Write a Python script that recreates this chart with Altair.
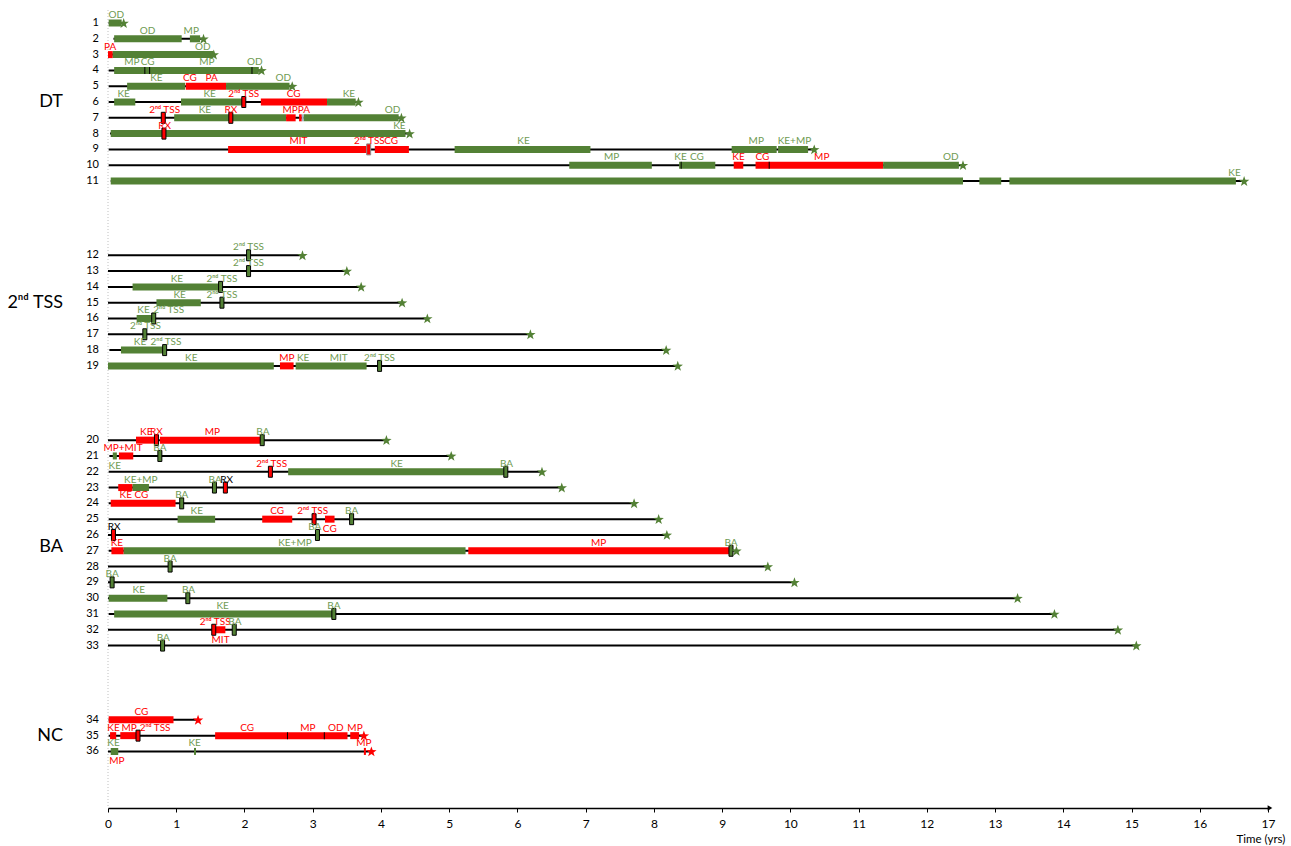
import math
import altair as alt
import pandas as pd

# ---------------------------------------------------------------- cohorts
groups = ["DT", "2ⁿᵈ TSS", "BA", "NC"]
group_sizes = [11, 8, 14, 3]
group_label_row = [6, 15, 26.75, 35]

# follow-up per patient (years): line start, line end (end of follow-up)
follow_start = [0.01, 0.08, 0.00, 0.01, 0.01, 0.01, 0.01, 0.03, 0.01, 0.01, 0.04,
                0.00, 0.00, 0.00, 0.00, 0.00, 0.00, 0.02, 0.00,
                0.00, 0.02, 0.01, 0.01, 0.01, 0.01, 0.00, 0.01, 0.00, 0.00, 0.00, 0.01, 0.00, 0.00,
                0.01, 0.01, 0.00]
follow_end = [0.23, 1.40, 1.55, 2.25, 2.70, 3.67, 4.30, 4.42, 10.35, 12.53, 16.65,
              2.85, 3.50, 3.71, 4.31, 4.68, 6.19, 8.18, 8.35,
              4.08, 5.03, 6.36, 6.65, 7.71, 8.07, 8.19, 9.21, 9.67, 10.06, 13.33, 13.87, 14.80, 15.07,
              1.32, 3.75, 3.86]
end_status = ["G"] * 33 + ["R"] * 3

# treatment periods: (patient, start, end, colour code)
bars = [
    (1, 0.01, 0.20, "G"),
    (2, 0.09, 1.08, "G"), (2, 1.20, 1.35, "G"),
    (3, 0.00, 0.07, "R"), (3, 0.07, 1.54, "G"),
    (4, 0.09, 2.21, "G"),
    (5, 0.28, 1.13, "G"), (5, 1.14, 1.73, "R"), (5, 1.73, 2.66, "G"),
    (6, 0.09, 0.40, "G"), (6, 1.07, 1.98, "G"), (6, 2.24, 3.21, "R"), (6, 3.21, 3.63, "G"),
    (7, 0.97, 2.61, "G"), (7, 2.61, 2.75, "R"), (7, 2.80, 2.84, "R"), (7, 2.84, 2.87, "S"),
    (7, 2.87, 4.26, "G"),
    (8, 0.04, 4.36, "G"),
    (9, 1.76, 3.81, "R"), (9, 3.91, 4.41, "R"), (9, 5.08, 7.07, "G"), (9, 9.14, 9.80, "G"),
    (9, 9.82, 10.26, "G"),
    (10, 6.76, 7.97, "G"), (10, 8.37, 8.90, "G"), (10, 9.17, 9.31, "R"), (10, 9.49, 11.36, "R"),
    (10, 11.36, 12.47, "G"),
    (11, 0.04, 12.53, "G"), (11, 12.77, 13.09, "G"), (11, 13.21, 16.53, "G"),
    (14, 0.36, 1.64, "G"),
    (15, 0.71, 1.36, "G"),
    (16, 0.42, 0.64, "G"),
    (18, 0.19, 0.82, "G"),
    (19, 0.00, 2.43, "G"), (19, 2.52, 2.72, "R"), (19, 2.75, 3.79, "G"),
    (20, 0.41, 0.69, "R"), (20, 0.76, 2.24, "R"),
    (21, 0.07, 0.13, "G"), (21, 0.16, 0.37, "R"),
    (22, 2.64, 5.81, "G"),
    (23, 0.15, 0.36, "R"), (23, 0.36, 0.60, "G"),
    (24, 0.04, 0.99, "R"),
    (25, 1.02, 1.57, "G"), (25, 2.26, 2.70, "R"), (25, 3.18, 3.32, "R"),
    (27, 0.05, 0.23, "R"), (27, 0.23, 5.24, "G"), (27, 5.28, 9.10, "R"),
    (30, 0.01, 0.87, "G"),
    (31, 0.09, 3.29, "G"),
    (32, 1.57, 1.72, "R"),
    (34, 0.01, 0.96, "R"),
    (35, 0.03, 0.12, "R"), (35, 0.18, 0.42, "R"), (35, 1.57, 3.51, "R"), (35, 3.55, 3.68, "R"),
    (36, 0.04, 0.15, "G"), (36, 1.26, 1.29, "G"), (36, 3.75, 3.78, "R"),
]

# boundaries between consecutive periods inside one bar: (patient, time)
dividers = [(4, 0.54), (4, 0.61), (4, 2.11), (10, 8.40), (10, 9.69), (35, 2.63), (35, 3.17)]

# point events (2nd TSS, RX, BA): (patient, time, colour code)
events = [
    (6, 1.99, "R"), (7, 0.81, "R"), (7, 1.80, "R"), (8, 0.82, "R"), (9, 3.82, "R"),
    (12, 2.06, "G"), (13, 2.06, "G"), (14, 1.65, "G"), (15, 1.67, "G"), (16, 0.67, "G"),
    (17, 0.54, "G"), (18, 0.83, "G"), (19, 3.98, "G"),
    (20, 0.71, "R"), (20, 2.26, "G"), (21, 0.76, "G"), (22, 2.38, "R"), (22, 5.83, "G"),
    (23, 1.56, "G"), (23, 1.72, "R"), (24, 1.08, "G"), (25, 3.02, "R"), (25, 3.57, "G"),
    (26, 0.08, "R"), (26, 3.07, "G"), (27, 9.13, "G"), (28, 0.91, "G"), (29, 0.06, "G"),
    (30, 1.17, "G"), (31, 3.31, "G"), (32, 1.55, "R"), (32, 1.85, "G"), (33, 0.80, "G"),
    (35, 0.44, "R"),
]

TSS = "2ⁿᵈ TSS"
# annotations: (patient, time, text, colour code, side)
notes = [
    (1, 0.12, "OD", "G", "up"),
    (2, 0.58, "OD", "G", "up"), (2, 1.22, "MP", "G", "up"),
    (3, 0.03, "PA", "R", "up"), (3, 1.39, "OD", "G", "up"),
    (4, 0.35, "MP", "G", "up"), (4, 0.58, "CG", "G", "up"), (4, 1.45, "MP", "G", "up"),
    (4, 2.15, "OD", "G", "up"),
    (5, 0.71, "KE", "G", "up"), (5, 1.20, "CG", "R", "up"), (5, 1.52, "PA", "R", "up"),
    (5, 2.57, "OD", "G", "up"),
    (6, 0.23, "KE", "G", "up"), (6, 1.49, "KE", "G", "up"), (6, 1.99, TSS, "R", "up"),
    (6, 2.72, "CG", "R", "up"), (6, 3.53, "KE", "G", "up"),
    (7, 0.83, TSS, "R", "up"), (7, 1.42, "KE", "G", "up"), (7, 1.80, "RX", "R", "up"),
    (7, 2.76, "MPPA", "R", "up"), (7, 4.17, "OD", "G", "up"),
    (8, 0.83, "RX", "R", "up"), (8, 4.27, "KE", "G", "up"),
    (9, 2.79, "MIT", "R", "up"), (9, 3.83, TSS, "R", "up"), (9, 4.15, "CG", "R", "up"),
    (9, 6.09, "KE", "G", "up"), (9, 9.50, "MP", "G", "up"), (9, 10.06, "KE+MP", "G", "up"),
    (10, 7.38, "MP", "G", "up"), (10, 8.39, "KE", "G", "up"), (10, 8.63, "CG", "G", "up"),
    (10, 9.24, "KE", "R", "up"), (10, 9.59, "CG", "R", "up"), (10, 10.46, "MP", "R", "up"),
    (10, 12.35, "OD", "G", "up"),
    (11, 16.51, "KE", "G", "up"),
    (12, 2.06, TSS, "G", "up"),
    (13, 2.06, TSS, "G", "up"),
    (14, 1.01, "KE", "G", "up"), (14, 1.67, TSS, "G", "up"),
    (15, 1.05, "KE", "G", "up"), (15, 1.67, TSS, "G", "up"),
    (16, 0.52, "KE", "G", "up"), (16, 0.89, TSS, "G", "up"),
    (17, 0.55, TSS, "G", "up"),
    (18, 0.47, "KE", "G", "up"), (18, 0.85, TSS, "G", "up"),
    (19, 1.22, "KE", "G", "up"), (19, 2.62, "MP", "R", "up"), (19, 2.86, "KE", "G", "up"),
    (19, 3.38, "MIT", "G", "up"), (19, 3.98, TSS, "G", "up"),
    (20, 0.56, "KE", "R", "up"), (20, 0.71, "RX", "R", "up"), (20, 1.53, "MP", "R", "up"),
    (20, 2.27, "BA", "G", "up"),
    (21, 0.22, "MP+MIT", "R", "up"), (21, 0.10, "KE", "G", "down"), (21, 0.76, "BA", "G", "up"),
    (22, 2.40, TSS, "R", "up"), (22, 4.23, "KE", "G", "up"), (22, 5.84, "BA", "G", "up"),
    (23, 0.48, "KE+MP", "G", "up"), (23, 1.57, "BA", "G", "up"), (23, 1.74, "RX", "K", "up"),
    (24, 0.26, "KE", "R", "up"), (24, 0.49, "CG", "R", "up"), (24, 1.08, "BA", "G", "up"),
    (25, 1.30, "KE", "G", "up"), (25, 2.48, "CG", "R", "up"), (25, 3.00, TSS, "R", "up"),
    (25, 3.57, "BA", "G", "up"), (25, 3.25, "CG", "R", "down"),
    (26, 0.09, "RX", "K", "up"), (26, 3.03, "BA", "G", "up"),
    (27, 0.13, "KE", "R", "up"), (27, 2.74, "KE+MP", "G", "up"), (27, 7.19, "MP", "R", "up"),
    (27, 9.13, "BA", "G", "up"),
    (28, 0.91, "BA", "G", "up"),
    (29, 0.06, "BA", "G", "up"),
    (30, 0.45, "KE", "G", "up"), (30, 1.18, "BA", "G", "up"),
    (31, 1.68, "KE", "G", "up"), (31, 3.31, "BA", "G", "up"),
    (32, 1.57, TSS, "R", "up"), (32, 1.86, "BA", "G", "up"), (32, 1.65, "MIT", "R", "down"),
    (33, 0.81, "BA", "G", "up"),
    (34, 0.49, "CG", "R", "up"),
    (35, 0.08, "KE", "R", "up"), (35, 0.31, "MP", "R", "up"), (35, 0.69, TSS, "R", "up"),
    (35, 2.04, "CG", "R", "up"), (35, 2.93, "MP", "R", "up"), (35, 3.34, "OD", "R", "up"),
    (35, 3.62, "MP", "R", "up"),
    (36, 0.08, "KE", "G", "up"), (36, 0.13, "MP", "R", "down"), (36, 1.27, "KE", "G", "up"),
    (36, 3.75, "MP", "R", "up"),
]

# x-axis ticks every quarter year, labelled on whole years
tick_values = [i * 0.25 for i in range(69)]

# ---------------------------------------------------------------- styling
FILL = {"G": "#538135", "R": "#ff0000", "S": "#a9b3c6", "K": "#000000"}
INK = {"G": "#6f9b52", "R": "#ff0000", "K": "#000000"}
FONT = "Lato"
GAP = 3.7  # empty row slots between cohorts

# five-pointed star symbol in the unit box [-1, 1]
_pts = []
for k in range(10):
    ang = math.radians(-90 + 36 * k)
    rad = 1.0 if k % 2 == 0 else 0.40
    _pts.append(f"{rad * math.cos(ang):.3f},{rad * math.sin(ang) + 0.08:.3f}")
STAR = "M" + " L".join(_pts) + " Z"

row_group = []
for gi, n in enumerate(group_sizes):
    row_group += [gi] * n


def slot(r):
    return (r - 1) + GAP * row_group[int(round(r)) - 1]


n_rows = len(follow_end)
lines_df = pd.DataFrame({
    "row": list(range(1, n_rows + 1)),
    "t0": follow_start,
    "t1": follow_end,
    "c": [FILL[s] for s in end_status],
})
lines_df["slot"] = lines_df["row"].map(slot)
lines_df["label"] = lines_df["row"].astype(str)

bars_df = pd.DataFrame(bars, columns=["row", "t0", "t1", "code"])
bars_df["slot"] = bars_df["row"].map(slot)
bars_df["c"] = bars_df["code"].map(FILL)

div_df = pd.DataFrame(dividers, columns=["row", "t"])
div_df["slot"] = div_df["row"].map(slot)

ev_df = pd.DataFrame(events, columns=["row", "t", "code"])
ev_df["slot"] = ev_df["row"].map(slot)
ev_df["c"] = ev_df["code"].map(FILL)
ev_df["s"] = ["#8c8c8c" if r == 9 else "#000000" for r in ev_df["row"]]

notes_df = pd.DataFrame(notes, columns=["row", "t", "text", "code", "side"])
notes_df["slot"] = notes_df["row"].map(slot)
notes_df["c"] = notes_df["code"].map(INK)

grp_df = pd.DataFrame({"name": groups,
                       "slot": [slot(r) for r in group_label_row]})

XS = alt.Scale(domain=[0, 17], nice=False, zero=False, padding=0)
YS = alt.Scale(domain=[-1.456, 49.68], reverse=True, nice=False, zero=False, padding=0)
AX = alt.Axis(values=tick_values, format="d",
              labelExpr="datum.value % 1 === 0 ? datum.label : ''",
              tickSize=4, tickColor="black", tickWidth=1,
              domainColor="black", domainWidth=1.3,
              labelFont=FONT, labelFontSize=12, labelColor="black",
              labelPadding=6, labelOverlap=False, labelFlush=False,
              title=None, grid=False, orient="bottom")


def X(f):
    return alt.X(f, type="quantitative", scale=XS, axis=AX)


def Y(f="slot"):
    return alt.Y(f, type="quantitative", scale=YS, axis=None)


base_rule = alt.Chart(pd.DataFrame({"k": [0]})).mark_rule(
    color="#c0c0c0", strokeDash=[1, 2], strokeWidth=1
).encode(x=alt.value(0), y=alt.value(10), y2=alt.value(808))

follow = alt.Chart(lines_df).mark_rule(color="black", strokeWidth=2).encode(
    x=X("t0"), x2="t1", y=Y())

periods = alt.Chart(bars_df).mark_bar(size=7, orient="horizontal").encode(
    x=X("t0"), x2="t1", y=Y(), color=alt.Color("c:N", scale=None))

splits = alt.Chart(div_df).mark_tick(
    orient="vertical", thickness=1, size=7, color="black", opacity=1
).encode(x=X("t"), y=Y())

marks = alt.Chart(ev_df).mark_tick(
    orient="vertical", thickness=4, size=11, strokeWidth=1, opacity=1, filled=True
).encode(x=X("t"), y=Y(), fill=alt.Fill("c:N", scale=None),
         stroke=alt.Stroke("s:N", scale=None))

stars = alt.Chart(lines_df).mark_point(
    shape=STAR, filled=True, size=120, opacity=1
).encode(x=X("t1"), y=Y(), color=alt.Color("c:N", scale=None))

up_text = alt.Chart(notes_df[notes_df["side"] == "up"]).mark_text(
    font=FONT, fontSize=10, baseline="alphabetic", dy=-5, align="center"
).encode(x=X("t"), y=Y(), text="text:N", color=alt.Color("c:N", scale=None))

down_text = alt.Chart(notes_df[notes_df["side"] == "down"]).mark_text(
    font=FONT, fontSize=10, baseline="top", dy=5, align="center"
).encode(x=X("t"), y=Y(), text="text:N", color=alt.Color("c:N", scale=None))

row_ids = alt.Chart(lines_df).mark_text(
    font=FONT, fontSize=11, align="right", baseline="middle", color="black"
).encode(x=alt.value(-9), y=Y(), text="label:N")

grp_text = alt.Chart(grp_df).mark_text(
    font=FONT, fontSize=18, align="right", baseline="middle", color="black"
).encode(x=alt.value(-45), y=Y(), text="name:N")

arrow = alt.Chart(pd.DataFrame({"k": [0]})).mark_point(
    shape="triangle-right", filled=True, size=30, color="black", opacity=1
).encode(x=alt.value(1162), y=alt.value(808))

time_title = alt.Chart(pd.DataFrame({"txt": ["Time (yrs)"]})).mark_text(
    font=FONT, fontSize=11.5, align="center", baseline="middle", color="black"
).encode(x=alt.value(1153), y=alt.value(840), text="txt:N")

chart = alt.layer(
    base_rule, follow, periods, splits, marks, stars,
    up_text, down_text, row_ids, grp_text, arrow, time_title
).properties(
    width=1160, height=808,
    padding={"left": 108, "top": 0, "right": 23, "bottom": 38},
    autosize=alt.AutoSizeParams(type="none"),
).configure_view(stroke=None)

chart.save("out.html", embed_options={"renderer": "svg", "actions": False})
